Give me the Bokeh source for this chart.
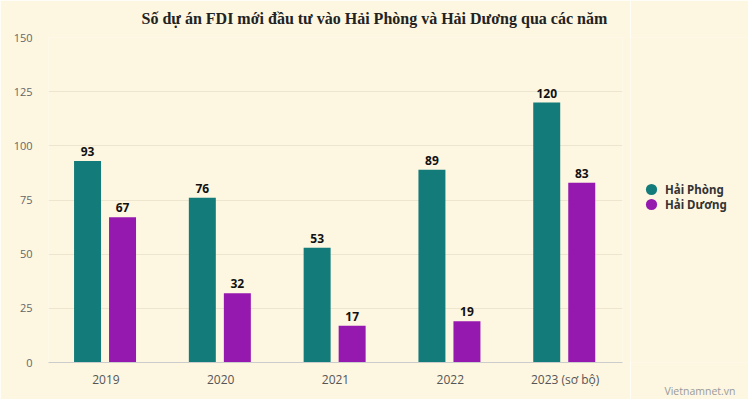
from bokeh.plotting import figure
from bokeh.layouts import row
from bokeh.models import (ColumnDataSource, FactorRange, Range1d, FixedTicker,
                          Legend, LegendItem, Title)
from bokeh.transform import dodge
from bokeh.embed import file_html
from bokeh.resources import INLINE
from bokeh.core.properties import value

years = ["2019", "2020", "2021", "2022", "2023 (sơ bộ)"]
hai_phong = [93, 76, 53, 89, 120]
hai_duong = [67, 32, 17, 19, 83]
series_names = ["Hải Phòng", "Hải Dương"]
y_ticks = [0, 25, 50, 75, 100, 125, 150]
title_text = "Số dự án FDI mới đầu tư vào Hải Phòng và Hải Dương qua các năm"
source_text = "Vietnamnet.vn"

BG = "#FDF6E1"
TEAL = "#137C7A"
PURPLE = "#9518AF"

src = ColumnDataSource(dict(
    years=years, hp=hai_phong, hd=hai_duong,
    hp_txt=[str(v) for v in hai_phong], hd_txt=[str(v) for v in hai_duong],
))

# ---------------- main chart ----------------
p = figure(x_range=FactorRange(factors=years, range_padding=0),
           y_range=Range1d(0, 150),
           width=630, height=399, output_backend="svg", toolbar_location=None,
           min_border_left=48, min_border_right=8, min_border_top=37,
           min_border_bottom=37)
p.background_fill_color = BG
p.border_fill_color = BG
p.outline_line_color = None

p.vbar(x=dodge("years", -0.16, range=p.x_range), top="hp", width=0.235,
       source=src, fill_color=TEAL, line_color=None)
p.vbar(x=dodge("years", 0.145, range=p.x_range), top="hd", width=0.235,
       source=src, fill_color=PURPLE, line_color=None)

for col, txt, off in (("hp", "hp_txt", -0.16), ("hd", "hd_txt", 0.145)):
    p.text(x=dodge("years", off, range=p.x_range), y=col, text=txt, source=src,
           text_align="center", text_baseline="bottom", y_offset=-5,
           text_font=value("Open Sans"), text_font_size="12px",
           text_font_style="bold", text_color="#111111")

p.yaxis.ticker = FixedTicker(ticks=y_ticks)
p.yaxis.axis_line_color = None
p.yaxis.major_tick_line_color = None
p.yaxis.minor_tick_line_color = None
p.yaxis.major_tick_out = 0
p.yaxis.major_label_text_font = "Open Sans"
p.yaxis.major_label_text_font_size = "11px"
p.yaxis.major_label_text_color = "#666666"
p.yaxis.major_label_standoff = 16

p.xaxis.axis_line_color = "#CCCCCC"
p.xaxis.major_tick_line_color = None
p.xaxis.minor_tick_line_color = None
p.xaxis.major_tick_out = 0
p.xaxis.major_label_text_font = "Open Sans"
p.xaxis.major_label_text_font_size = "12px"
p.xaxis.major_label_text_color = "#555555"
p.xaxis.major_label_standoff = 8

p.xgrid.grid_line_color = None
p.ygrid.grid_line_color = "#EDE5CD"

p.title.text = title_text
p.title.text_font = "Liberation Serif"
p.title.text_font_size = "16px"
p.title.text_font_style = "bold"
p.title.text_color = "#222222"
p.title.align = "left"
p.title.vertical_align = "top"
p.title.offset = 93
p.title.standoff = 17

# ---------------- legend panel ----------------
q = figure(x_range=Range1d(0, 1), y_range=Range1d(0, 1), width=118, height=399,
           output_backend="svg", toolbar_location=None,
           min_border_left=0, min_border_right=0, min_border_top=0,
           min_border_bottom=0, x_axis_type=None, y_axis_type=None)
q.background_fill_color = BG
q.border_fill_color = BG
q.outline_line_color = None
q.xgrid.grid_line_color = None
q.ygrid.grid_line_color = None

nan_src = ColumnDataSource(dict(x=[0.5], y=[float("nan")]))
colors = [TEAL, PURPLE]
legend_y = [159, 144]
for name, c, ly in zip(series_names, colors, legend_y):
    r = q.scatter(x="x", y="y", source=nan_src, marker="circle", size=11,
                  fill_color=c, line_color=None)
    lg = Legend(items=[LegendItem(label=name, renderers=[r])],
                location=(7, ly), orientation="vertical",
                glyph_width=28, glyph_height=28, padding=0, margin=0,
                label_standoff=-4, border_line_alpha=0, background_fill_alpha=0,
                label_text_font="Noto Sans", label_text_font_size="11.5px",
                label_text_font_style="bold", label_text_color="#333333")
    q.add_layout(lg)

# blank spacer next to the frame, then the source note further out
q.add_layout(Title(text=" ", align="right", text_font="Open Sans",
                   text_font_size="10.5px", text_font_style="normal",
                   text_color=BG, standoff=4), "below")
q.add_layout(Title(text=source_text, align="right", offset=13,
                   vertical_align="middle", text_font="Open Sans",
                   text_font_size="10.5px", text_font_style="normal",
                   text_color="#9A9A9A", standoff=0), "below")

layout = row(p, q, spacing=0)
open("out.html", "w").write(file_html(layout, INLINE))
